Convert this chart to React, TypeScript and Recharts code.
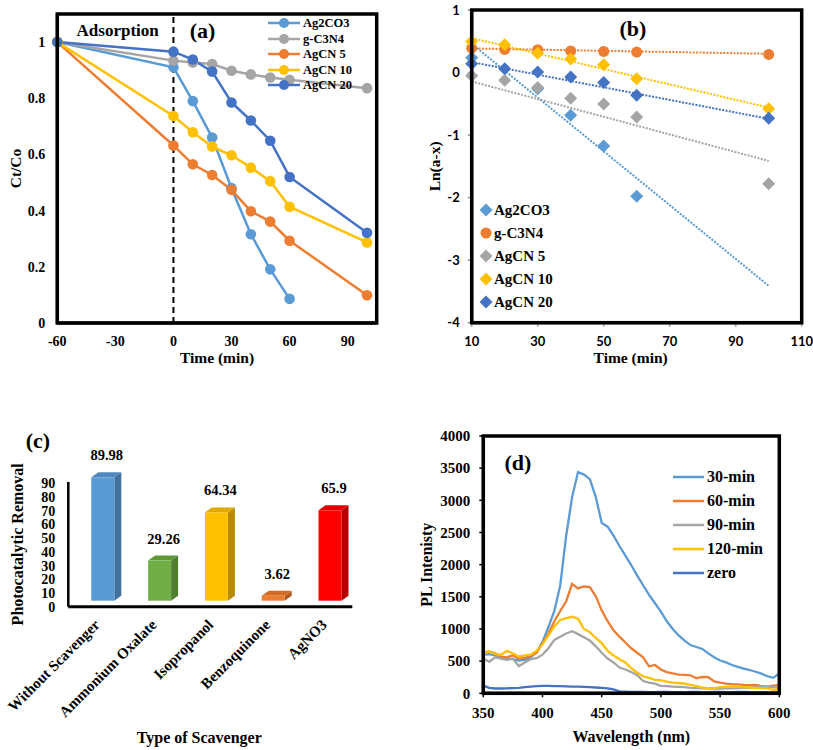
import React from 'react';
import {
  LineChart, Line, XAxis, YAxis, ReferenceLine, Legend,
  ComposedChart, Scatter, BarChart, Bar, LabelList,
} from 'recharts';

const SERIF = '"Liberation Serif", "Times New Roman", serif';
const SANS = 'Lato, "Liberation Sans", Arial, sans-serif';

// ---------- Panel (a) ----------
const timeA = [-60, 0, 10, 20, 30, 40, 50, 60, 100];
const ag2co3A = [1, 0.91, 0.79, 0.66, 0.48, 0.316, 0.191, 0.086, null];
const gc3n4A = [1, 0.934, 0.927, 0.922, 0.898, 0.885, 0.874, 0.866, 0.836];
const agcn5A = [1, 0.632, 0.565, 0.527, 0.474, 0.398, 0.361, 0.293, 0.099];
const agcn10A = [1, 0.737, 0.679, 0.628, 0.597, 0.553, 0.505, 0.414, 0.287];
const agcn20A = [1, 0.966, 0.938, 0.895, 0.785, 0.721, 0.649, 0.52, 0.321];
const namesA = ['Ag2CO3', 'g-C3N4', 'AgCN 5', 'AgCN 10', 'AgCN 20'];
const colorsA = ['#5B9BD5', '#A5A5A5', '#ED7D31', '#FFC000', '#4472C4'];
const xTicksA = [-60, -30, 0, 30, 60, 90];
const yTicksA = [0, 0.2, 0.4, 0.6, 0.8, 1];
const xDomainA = [-60, 105];
const yDomainA = [0, 1.1];

// ---------- Panel (b) ----------
const timeB = [10, 20, 30, 40, 50, 60, 100];
const ag2co3B = [0.236, null, -0.26, -0.684, -1.174, -1.98, null];
const gc3n4B = [0.39, 0.37, 0.365, 0.345, 0.337, 0.328, 0.29];
const agcn5B = [-0.05, -0.125, -0.24, -0.41, -0.505, -0.71, -1.78];
const agcn10B = [0.497, 0.444, 0.31, 0.215, 0.125, -0.1, -0.58];
const agcn20B = [0.14, 0.06, 0.007, -0.07, -0.16, -0.365, -0.73];
const trendXB = [10, 100];
const ag2co3TrendB = [0.46, -3.41];
const gc3n4TrendB = [0.385, 0.3];
const agcn5TrendB = [-0.142, -1.413];
const agcn10TrendB = [0.55, -0.56];
const agcn20TrendB = [0.167, -0.74];
const namesB = ['Ag2CO3', 'g-C3N4', 'AgCN 5', 'AgCN 10', 'AgCN 20'];
const colorsB = ['#5B9BD5', '#ED7D31', '#A5A5A5', '#FFC000', '#4472C4'];
const markersB = ['diamond', 'circle', 'diamond', 'diamond', 'diamond'];
const xTicksB = [10, 30, 50, 70, 90, 110];
const yTicksB = [-4, -3, -2, -1, 0, 1];
const xDomainB = [10, 110];
const yDomainB = [-4, 1];

// ---------- Panel (c) ----------
const scavengers = ['Without Scavenger', 'Ammonium Oxalate', 'Isopropanol', 'Benzoquinone', 'AgNO3'];
const removal = [89.98, 29.26, 64.34, 3.62, 65.9];
const frontC = ['#5B9BD5', '#70AD47', '#FFC000', '#ED7D31', '#FF0000'];
const sideC = ['#41719C', '#4F7E31', '#B88B00', '#AE5A21', '#B80000'];
const topC = ['#4F88BE', '#5F9838', '#E0A900', '#D46C25', '#E00000'];
const yTicksC = [0, 10, 20, 30, 40, 50, 60, 70, 80, 90];

// ---------- Panel (d) ----------
const wavelength = [
  350, 355, 360, 365, 370, 375, 380, 385, 390, 395, 400, 405, 410, 415, 420, 425, 430,
  435, 440, 445, 450, 455, 460, 465, 470, 475, 480, 485, 490, 495, 500, 505, 510, 515,
  520, 525, 530, 535, 540, 545, 550, 555, 560, 565, 570, 575, 580, 585, 590, 595, 600,
];
const min30 = [
  600, 610, 590, 545, 535, 530, 510, 520, 560, 640, 800, 1030, 1280, 1680, 2450, 3050, 3440,
  3400, 3330, 3050, 2650, 2590, 2450, 2290, 2140, 1990, 1830, 1680, 1530, 1400, 1270, 1120, 1000, 900,
  820, 750, 720, 690, 620, 560, 510, 480, 440, 410, 385, 362, 335, 305, 265, 240, 310,
];
const min60 = [
  630, 650, 620, 570, 560, 590, 540, 550, 580, 630, 780, 930, 1120, 1280, 1430, 1700, 1630,
  1660, 1650, 1510, 1290, 1120, 980, 880, 790, 700, 630, 560, 420, 440, 370, 330, 310, 290,
  285, 280, 235, 255, 250, 185, 165, 150, 142, 140, 130, 128, 130, 112, 105, 118, 130,
];
const min90 = [
  540, 490, 560, 540, 520, 540, 420, 480, 530, 545, 600, 700, 830, 880, 930, 965, 920,
  870, 820, 730, 630, 540, 480, 400, 370, 330, 280, 190, 165, 150, 115, 110, 105, 100,
  95, 85, 80, 78, 75, 75, 75, 78, 78, 80, 85, 90, 100, 100, 100, 95, 85,
];
const min120 = [
  620, 650, 610, 600, 660, 620, 570, 590, 600, 660, 760, 900, 1040, 1140, 1170, 1190, 1160,
  1000, 950, 860, 780, 660, 590, 530, 480, 390, 320, 265, 240, 210, 200, 180, 165, 160,
  150, 130, 110, 90, 78, 80, 95, 100, 105, 100, 95, 90, 85, 80, 75, 55, 60,
];
const zero = [
  120, 85, 75, 75, 78, 80, 85, 95, 105, 110, 115, 115, 112, 110, 108, 105, 105,
  100, 95, 90, 85, 75, 60, 30, 25, 22, 20, 20, 18, 18, 20, 20, 18, 18,
  18, 20, 20, 18, 18, 20, 20, 18, 18, 20, 20, 18, 18, 16, 16, 15, 15,
];
const namesD = ['30-min', '60-min', '90-min', '120-min', 'zero'];
const colorsD = ['#5B9BD5', '#ED7D31', '#A5A5A5', '#FFC000', '#4472C4'];
const xTicksD = [350, 400, 450, 500, 550, 600];
const yTicksD = [0, 500, 1000, 1500, 2000, 2500, 3000, 3500, 4000];
const xDomainD = [350, 600];
const yDomainD = [0, 4000];

// ---------- tables built from arrays ----------
const seriesA = [ag2co3A, gc3n4A, agcn5A, agcn10A, agcn20A];
const dataA = timeA.map((t, i) => {
  const row: any = { t };
  seriesA.forEach((s, k) => { row['s' + k] = s[i]; });
  return row;
});
const seriesB = [ag2co3B, gc3n4B, agcn5B, agcn10B, agcn20B];
const pointsB = seriesB.map((s) =>
  timeB.map((x, i) => ({ x, y: s[i] })).filter((p) => p.y !== null)
);
const trendsB = [ag2co3TrendB, gc3n4TrendB, agcn5TrendB, agcn10TrendB, agcn20TrendB].map((tr) =>
  trendXB.map((x, i) => ({ x, y: tr[i] }))
);
const dataC = scavengers.map((name, i) => ({ name, v: removal[i] }));
const seriesD = [min30, min60, min90, min120, zero];
const dataD = wavelength.map((w, i) => {
  const row: any = { w };
  seriesD.forEach((s, k) => { row['d' + k] = s[i]; });
  return row;
});

const boldSerif = (size: number) => ({ fill: '#000', fontFamily: SERIF, fontWeight: 700, fontSize: size });
const FRAME = { stroke: '#000', strokeWidth: 3 };

const ordered = (payload: any[], names: string[]) =>
  names
    .map((n) => (payload || []).find((e: any) => e.value === n))
    .filter((e: any) => !!e);

const LineLegend = (names: string[], lineW: number, rowH: number, fontSize: number, withDot: boolean, gap: number) =>
  (props: any) => {
    const items = ordered(props.payload, names);
    return (
      <div style={{ fontFamily: SERIF, fontWeight: 700, fontSize, color: '#000', lineHeight: 1 }}>
        {items.map((e: any, i: number) => (
          <div key={i} style={{ display: 'flex', alignItems: 'center', height: rowH, whiteSpace: 'nowrap' }}>
            <svg width={lineW} height={12} style={{ display: 'block' }}>
              <line x1={0} y1={6} x2={lineW} y2={6} stroke={e.color} strokeWidth={2.5} />
              {withDot ? <circle cx={lineW / 2} cy={6} r={5} fill={e.color} /> : null}
            </svg>
            <span style={{ marginLeft: gap }}>{e.value}</span>
          </div>
        ))}
      </div>
    );
  };

const MarkerLegend = (props: any) => {
  const items = ordered(props.payload, namesB);
  return (
    <div style={{ fontFamily: SERIF, fontWeight: 700, fontSize: 15, color: '#000', lineHeight: 1 }}>
      {items.map((e: any, i: number) => (
        <div key={i} style={{ display: 'flex', alignItems: 'center', height: 23, whiteSpace: 'nowrap' }}>
          <svg width={14} height={14} style={{ display: 'block' }}>
            {markersB[namesB.indexOf(e.value)] === 'circle'
              ? <circle cx={7} cy={7} r={5.5} fill={e.color} />
              : <polygon points="7,0.5 13.5,7 7,13.5 0.5,7" fill={e.color} />}
          </svg>
          <span style={{ marginLeft: 1 }}>{e.value}</span>
        </div>
      ))}
    </div>
  );
};

const diamondShape = (props: any) => {
  const { cx, cy, fill } = props;
  const r = 6.5;
  return <polygon points={`${cx},${cy - r} ${cx + r},${cy} ${cx},${cy + r} ${cx - r},${cy}`} fill={fill} />;
};
const circleShape = (props: any) => {
  const { cx, cy, fill } = props;
  return <circle cx={cx} cy={cy} r={5.5} fill={fill} />;
};

const Bar3D = (props: any) => {
  const { x, y, width, height, index } = props;
  const fx = x + 6;
  const fy = y - 6;
  const dx = 7;
  const dy = 5;
  return (
    <g>
      <polygon
        points={`${fx + width},${fy} ${fx + width + dx},${fy - dy} ${fx + width + dx},${fy + height - dy} ${fx + width},${fy + height}`}
        fill={sideC[index]}
      />
      <polygon
        points={`${fx},${fy} ${fx + dx},${fy - dy} ${fx + width + dx},${fy - dy} ${fx + width},${fy}`}
        fill={topC[index]}
      />
      <rect x={fx} y={fy} width={width} height={height} fill={frontC[index]} />
    </g>
  );
};

const ValueLabel = (props: any) => {
  const { x, y, width, value } = props;
  return (
    <text x={x + width / 2 + 10} y={y - 23} textAnchor="middle" {...boldSerif(14.5)}>
      {value}
    </text>
  );
};

const RotTick = (props: any) => {
  const { x, y, payload } = props;
  return (
    <text transform={`translate(${x + 4},${y + 19}) rotate(-45)`} textAnchor="end" {...boldSerif(15)}>
      {payload.value}
    </text>
  );
};

// plot-area frames (layout only): [left, top, right, bottom] in page pixels
const boxes = [
  [57.3, 14, 376.7, 323],
  [471.7, 10, 801.7, 322.7],
  [483.3, 436, 779.3, 693.3],
];

export default function App() {
  return (
    <div style={{ position: 'absolute', left: 0, top: 0, width: 813, height: 750, background: '#fff' }}>
      {/* Panel (a) */}
      <div style={{ position: 'absolute', left: 0, top: 0 }}>
        <LineChart width={400} height={370} data={dataA} margin={{ top: 14, right: 23.3, bottom: 0, left: 0 }}>
          <XAxis
            dataKey="t" type="number" domain={xDomainA} ticks={xTicksA} height={47}
            tickLine={false} axisLine={FRAME} tickSize={6} tickMargin={7}
            tick={boldSerif(14)}
            label={{ value: 'Time (min)', position: 'insideBottom', offset: 7.5, ...boldSerif(15.5) }}
          />
          <YAxis
            type="number" domain={yDomainA} ticks={yTicksA} width={57.3}
            tickLine={false} axisLine={FRAME} tickSize={6} tickMargin={6}
            tick={boldSerif(14)}
            label={{ value: 'Ct/Co', angle: -90, position: 'insideLeft', offset: 15, ...boldSerif(15.5), style: { textAnchor: 'middle' } }}
          />
          <ReferenceLine x={0} stroke="#000" strokeWidth={2} strokeDasharray="6 4" />
          {namesA.map((n, k) => (
            <Line
              key={n} dataKey={'s' + k} name={n} stroke={colorsA[k]} strokeWidth={2.5}
              dot={{ r: 5.3, fill: colorsA[k], stroke: colorsA[k], strokeWidth: 0 }}
              activeDot={false} isAnimationActive={false}
            />
          ))}
          <Legend
            layout="vertical" align="center" verticalAlign="middle"
            content={LineLegend(namesA, 32, 15.5, 12.5, true, 3)}
            wrapperStyle={{ left: 268, top: 15.5, right: 'auto', bottom: 'auto', width: 'auto' }}
          />
        </LineChart>
      </div>

      {/* Panel (b) */}
      <div style={{ position: 'absolute', left: 400, top: 0 }}>
        <ComposedChart width={413} height={370} margin={{ top: 10, right: 11.3, bottom: 0, left: 0 }}>
          <XAxis
            dataKey="x" type="number" domain={xDomainB} ticks={xTicksB} height={47.3}
            tickLine={{ stroke: '#999', strokeWidth: 1.5 }} axisLine={FRAME} tickSize={4} tickMargin={10}
            tick={{ fill: '#000', fontFamily: SANS, fontWeight: 700, fontSize: 13 }}
            label={{ value: 'Time (min)', position: 'insideBottom', offset: 7.5, dx: -6, ...boldSerif(15.5) }}
          />
          <YAxis
            dataKey="y" type="number" domain={yDomainB} ticks={yTicksB} width={71.7}
            tickLine={{ stroke: '#999', strokeWidth: 1.5 }} axisLine={FRAME} tickSize={4} tickMargin={8}
            tick={{ fill: '#000', fontFamily: SANS, fontWeight: 700, fontSize: 13 }}
            label={{ value: 'Ln(a-x)', angle: -90, position: 'insideLeft', offset: 35, ...boldSerif(15.5), style: { textAnchor: 'middle' } }}
          />
          {trendsB.map((tr, k) => (
            <Line
              key={'t' + k} data={tr} dataKey="y" name={'trend ' + namesB[k]} stroke={colorsB[k]} strokeWidth={2}
              strokeDasharray="2 1.4" dot={false} activeDot={false} legendType="none"
              isAnimationActive={false}
            />
          ))}
          {pointsB.map((pts, k) => (
            <Scatter
              key={namesB[k]} name={namesB[k]} data={pts} dataKey="y" fill={colorsB[k]}
              legendType={markersB[k] as any}
              shape={markersB[k] === 'circle' ? circleShape : diamondShape}
              isAnimationActive={false}
            />
          ))}
          <Legend
            layout="vertical" align="center" verticalAlign="middle"
            content={MarkerLegend}
            wrapperStyle={{ left: 79, top: 198.5, right: 'auto', bottom: 'auto', width: 'auto' }}
          />
        </ComposedChart>
      </div>

      {/* Panel (c) */}
      <div style={{ position: 'absolute', left: 0, top: 370 }}>
        <BarChart width={400} height={380} data={dataC} margin={{ top: 111.9, right: 47.7, bottom: 0, left: 0 }}>
          <XAxis
            dataKey="name" height={143.3} interval={0}
            tickLine={false} axisLine={{ stroke: '#000', strokeWidth: 3 }} tickSize={0} tickMargin={0}
            tick={RotTick}
            label={{ value: 'Type of Scavenger', position: 'insideBottom', offset: 7.5, dx: -11, ...boldSerif(16) }}
          />
          <YAxis
            type="number" domain={[0, 91]} ticks={yTicksC} width={68.3} interval={0}
            tickLine={false} axisLine={{ stroke: '#000', strokeWidth: 2.5 }} tickSize={6} tickMargin={7}
            tick={boldSerif(14)}
            label={{ value: 'Photocatalytic Removal', angle: -90, position: 'insideLeft', offset: 17, ...boldSerif(16), style: { textAnchor: 'middle' } }}
          />
          <Bar dataKey="v" barSize={23} shape={Bar3D} isAnimationActive={false}>
            <LabelList dataKey="v" content={ValueLabel} />
          </Bar>
        </BarChart>
      </div>

      {/* Panel (d) */}
      <div style={{ position: 'absolute', left: 400, top: 370 }}>
        <LineChart width={413} height={380} data={dataD} margin={{ top: 66, right: 33.7, bottom: 0, left: 0 }}>
          <XAxis
            dataKey="w" type="number" domain={xDomainD} ticks={xTicksD} height={56.7}
            tickLine={{ stroke: '#000', strokeWidth: 1.5 }} axisLine={FRAME} tickSize={4} tickMargin={10}
            tick={boldSerif(15)}
            label={{ value: 'Wavelength (nm)', position: 'insideBottom', offset: 8, ...boldSerif(16) }}
          />
          <YAxis
            type="number" domain={yDomainD} ticks={yTicksD} width={83.3}
            tickLine={{ stroke: '#000', strokeWidth: 1.5 }} axisLine={FRAME} tickSize={4} tickMargin={9}
            tick={boldSerif(15)}
            label={{ value: 'PL Intenisty', angle: -90, position: 'insideLeft', offset: 26, ...boldSerif(16), style: { textAnchor: 'middle' } }}
          />
          {namesD.map((n, k) => (
            <Line
              key={n} dataKey={'d' + k} name={n} stroke={colorsD[k]} strokeWidth={2.3}
              dot={false} activeDot={false} isAnimationActive={false}
            />
          ))}
          <Legend
            layout="vertical" align="center" verticalAlign="middle"
            content={LineLegend(namesD, 31.3, 24, 16, false, 3)}
            wrapperStyle={{ left: 272.7, top: 95.3, right: 'auto', bottom: 'auto', width: 'auto' }}
          />
        </LineChart>
      </div>

      {/* Panel letters, annotation and plot frames */}
      <svg width={813} height={750} style={{ position: 'absolute', left: 0, top: 0, pointerEvents: 'none', zIndex: 5 }}>
        {boxes.map((b, i) => (
          <rect key={i} x={b[0]} y={b[1]} width={b[2] - b[0]} height={b[3] - b[1]} fill="none" stroke="#000" strokeWidth={3.5} />
        ))}
        <text x={117.7} y={35.5} textAnchor="middle" {...boldSerif(17)}>Adsorption</text>
        <text x={202.5} y={37.5} textAnchor="middle" {...boldSerif(22)}>(a)</text>
        <text x={633} y={36} textAnchor="middle" {...boldSerif(22)}>(b)</text>
        <text x={38} y={447.5} textAnchor="middle" {...boldSerif(22)}>(c)</text>
        <text x={518} y={470} textAnchor="middle" {...boldSerif(22)}>(d)</text>
      </svg>
    </div>
  );
}
